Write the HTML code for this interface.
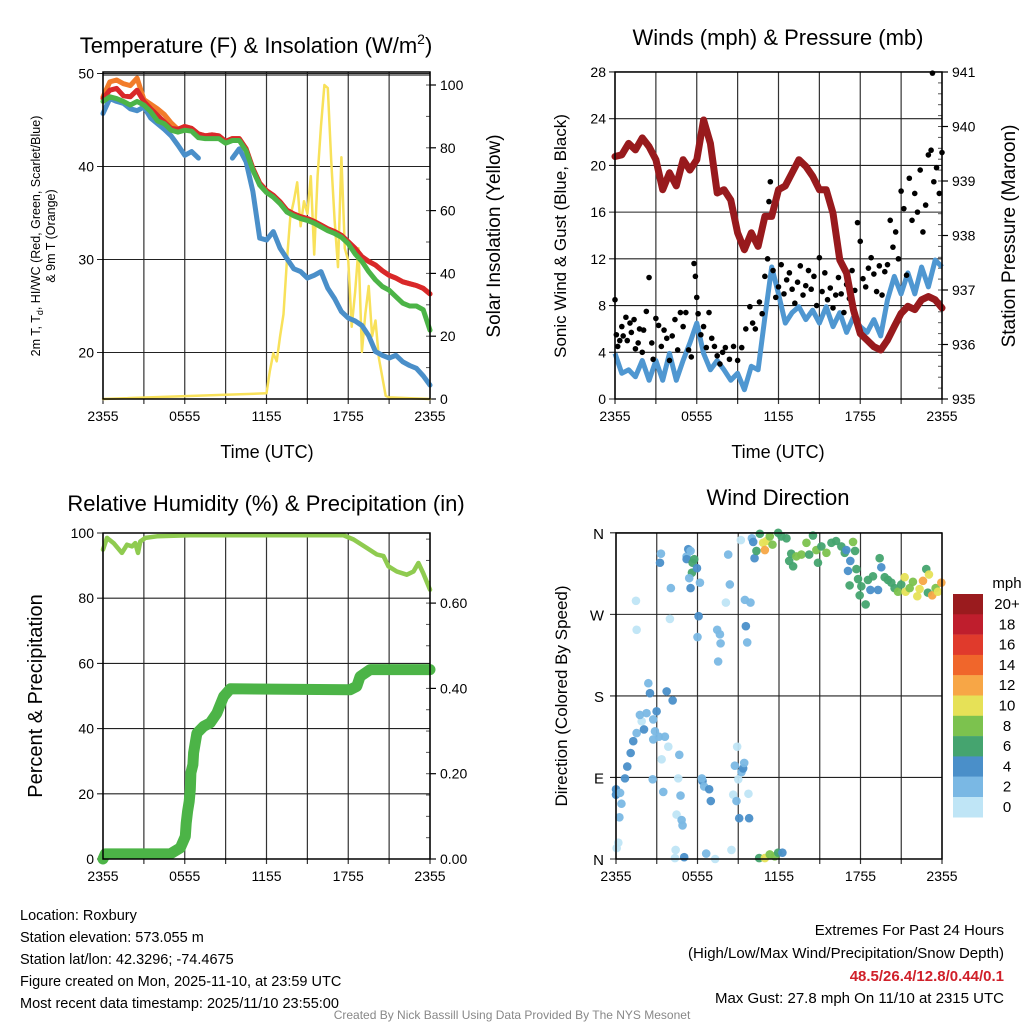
<!DOCTYPE html>
<html><head><meta charset="utf-8"><style>
html,body{margin:0;padding:0;background:#fff;}
svg{display:block;font-family:"Liberation Sans",sans-serif;}
</style></head><body>
<svg id="root" width="1024" height="1024" viewBox="0 0 1024 1024" xmlns="http://www.w3.org/2000/svg"></svg>
<script>
// ---------- DATA ----------
const tickLabelsX = ["2355","0555","1155","1755","2355"];
const halfHours = [0,0.5,1,1.5,2,2.5,3,3.5,4,4.5,5,5.5,6,6.5,7,7.5,8,8.5,9,9.5,10,10.5,11,11.5,12,12.5,13,13.5,14,14.5,15,15.5,16,16.5,17,17.5,18,18.5,19,19.5,20,20.5,21,21.5,22,22.5,23,23.5,24];
const tempRed = [47.3,48.2,48.4,47.6,47.5,48.2,47.0,46.2,45.5,44.8,44.1,44.0,44.3,44.1,43.5,43.3,43.4,43.3,42.7,43.0,43.0,41.9,39.8,38.2,37.4,36.9,36.2,35.3,34.9,34.6,34.4,34.1,33.7,33.3,33.0,32.6,31.9,31.2,30.3,29.8,29.4,28.8,28.3,28.0,27.6,27.4,27.2,26.9,26.3];
const tempGreen = [47.0,47.5,47.3,47.0,46.6,47.0,46.6,45.9,44.9,44.6,43.9,43.7,43.9,43.8,43.1,43.0,43.0,43.0,42.5,42.8,42.8,41.7,39.6,38.0,37.2,36.7,36.0,35.1,34.7,34.4,34.2,33.9,33.5,33.1,32.8,32.4,31.7,30.6,29.8,28.7,27.8,27.1,26.7,26.0,25.3,25.0,25.0,24.6,22.4];
const tempOrange = [47.5,49.1,49.3,48.9,48.7,49.5,47.2,46.7,46.2,45.6,44.7,44.0,44.3,44.1,43.5,43.3,43.4,43.3,42.7,43.0,43.0,41.9,39.8,38.2,37.4,36.9,36.2,35.3,34.9,34.6,34.4,34.1,33.7,33.3,33.0,32.6,31.9,31.2,30.3,29.8,29.4,28.8,28.3,28.0,27.6,27.4,27.2,26.9,26.3];
const dewBlue = [45.7,47.3,47.0,46.8,46.2,46.0,46.4,45.2,44.6,44.0,43.3,42.3,41.2,41.6,40.9,null,null,null,null,40.9,41.9,40.5,37.3,32.3,32.1,33.0,31.2,30.1,29.0,28.7,28.0,28.3,28.7,26.9,25.8,24.4,23.7,23.4,22.9,21.8,20.1,19.7,19.4,19.7,19.0,18.6,18.3,17.5,16.5];
const solarT = [0,12,12.25,12.5,12.75,13,13.25,13.5,13.75,14,14.25,14.5,14.75,15,15.25,15.5,15.75,16,16.25,16.5,16.75,17,17.25,17.5,17.75,18,18.25,18.5,18.75,19,19.25,19.5,19.75,20,20.25,20.5,20.75,21,24];
const solarV = [0,1.8,9,14.6,12,20,27,44,58,63,69,55,63,59,71,46,71,87,100,99,76,57,42,77,48,44,23,34,48,15,27,36,20,25,13,7,1,0.5,0];
const sonicWind = [3.9,2.2,2.5,1.9,3.3,1.6,3.3,1.6,3.9,1.6,3.3,4.8,6.5,3.9,2.5,3.3,2.5,1.6,2.2,0.8,2.8,2.5,7.0,11.3,9.0,6.5,7.4,7.9,6.8,7.6,6.5,7.9,6.2,7.4,5.7,7.0,6.2,5.7,6.8,5.4,8.5,10.5,9.0,10.8,9.0,11.3,9.6,11.9,11.3];
const pressure = [939.45,939.48,939.69,939.57,939.79,939.63,939.39,938.84,939.15,938.91,939.39,939.2,939.39,940.12,939.69,938.78,938.84,938.65,938.05,937.74,938.05,937.8,938.35,938.35,938.84,938.91,939.15,939.39,939.27,939.09,938.84,938.84,938.41,937.55,937.31,936.64,936.2,936.08,935.96,935.9,936.08,936.33,936.57,936.7,936.64,936.82,936.88,936.82,936.67];
const gustT = [0.0,0.1,0.2,0.35,0.5,0.6,0.8,0.9,1.1,1.2,1.4,1.5,1.7,1.8,2.0,2.1,2.3,2.5,2.7,2.8,3.0,3.2,3.4,3.6,3.8,4.0,4.2,4.4,4.6,4.8,5.0,5.2,5.4,5.6,5.8,5.9,6.0,6.1,6.3,6.5,6.7,6.9,7.1,7.3,7.5,7.7,7.9,8.1,8.4,8.7,9.0,9.3,9.6,9.9,10.1,10.3,10.6,10.8,11.0,11.2,11.3,11.4,11.6,11.8,12.0,12.2,12.4,12.6,12.8,13.0,13.2,13.4,13.6,13.8,14.0,14.2,14.4,14.6,14.8,15.0,15.2,15.4,15.6,15.8,16.0,16.2,16.4,16.6,16.8,17.0,17.2,17.4,17.6,17.8,18.0,18.2,18.4,18.6,18.8,19.0,19.2,19.4,19.6,19.8,20.0,20.2,20.4,20.6,20.8,21.0,21.2,21.4,21.6,21.8,22.0,22.2,22.4,22.6,22.8,23.0,23.2,23.3,23.4,23.6,23.8,24.0];
const gustV = [8.5,5.5,4.5,5.0,6.2,5.4,7.0,5.0,6.5,5.7,6.8,4.3,4.8,6.0,4.0,5.9,7.5,10.4,4.8,3.4,6.9,6.3,4.5,5.9,5.2,3.3,5.4,6.8,4.2,7.4,6.2,7.4,4.2,3.6,11.6,10.5,8.7,7.3,5.5,6.2,4.4,7.4,5.2,4.5,3.7,3.0,4.0,4.4,3.4,4.5,3.3,4.4,6.0,7.9,6.5,6.0,8.3,7.3,10.5,12.0,16.9,18.6,11.0,8.7,9.6,11.5,9.0,10.2,10.8,9.4,8.2,10.0,11.4,8.9,9.7,11.0,9.4,10.5,8.0,12.1,9.2,10.8,8.5,9.5,7.8,8.9,10.4,9.0,7.4,9.8,8.6,11.0,9.3,15.1,13.5,10.3,9.6,11.2,12.1,10.7,9.2,11.4,8.9,10.9,11.5,15.3,13.0,14.3,12.0,17.8,16.3,10.6,18.9,15.3,17.6,16.0,19.6,14.3,16.6,20.9,21.3,27.9,18.6,19.8,17.6,21.1];
const rhT = [0,0.29,0.78,1.39,1.76,2.13,2.37,2.57,2.74,3.11,3.96,6.4,17.65,18.39,19.37,20.1,20.59,20.95,21.56,22.3,22.79,23.15,23.5,24];
const rhV = [94.9,98.5,96.9,93.9,96.4,95.9,96.9,93.9,97.4,98.5,99.0,99.3,99.3,98.0,95.4,93.4,92.9,89.8,88.2,87.2,88.2,90.8,87.7,82.6];
const precipT = [0,0.17,4.94,5.67,6.04,6.11,6.21,6.33,6.41,6.45,6.6,6.65,6.89,7.38,7.87,8.36,8.85,9.34,18.14,18.63,18.87,19.61,24];
const precipV = [0,0.012,0.012,0.026,0.053,0.084,0.112,0.135,0.163,0.202,0.221,0.249,0.295,0.311,0.319,0.342,0.381,0.399,0.397,0.405,0.428,0.444,0.444];
const dirT = [0,0,0.3,0.4,0.25,0.17,0.05,0.66,0.83,1.08,1.27,1.52,1.89,1.76,2.06,2.25,2.38,2.5,2.74,2.87,2.74,2.7,2.99,3.16,3.36,3.48,3.6,3.85,3.73,4.17,4.46,4.58,4.66,4.75,4.83,4.9,4.39,5.02,4.34,1.47,1.52,3.97,4.04,3.31,3.24,5.2,5.32,5.49,5.2,5.76,5.64,5.59,5.96,5.39,5.49,6.18,6.08,6.0,6.37,6.49,6.86,6.98,6.32,6.64,7.3,7.45,7.65,7.7,7.52,8.09,8.26,8.38,8.5,8.63,8.87,8.75,8.92,9.0,9.07,9.24,9.36,9.44,9.75,9.8,9.56,9.66,9.49,9.9,9.19,10.0,10.1,10.2,10.34,10.59,10.83,10.96,11.08,11.32,11.52,11.94,12.18,12.55,12.75,13.04,12.9,13.28,13.65,14.02,14.22,14.5,14.75,14.87,15.12,15.49,15.86,16.2,16.59,16.84,16.96,17.45,17.6,17.25,17.08,17.7,17.82,17.2,18.06,17.94,18.38,18.55,18.73,18.92,19.29,19.41,19.53,19.78,20.02,20.27,20.51,20.76,21.0,21.25,21.32,21.62,21.86,22.18,22.35,22.6,22.84,23.04,22.96,23.28,23.53,23.7,23.95,10.54,10.96,11.32,11.69,11.94,12.25];
const dirV = [77,71,73,61,46,18,12,89,102,117,130,139,152,159,143,161,194,183,154,141,132,88,163,135,110,74,135,124,185,175,49,89,115,70,43,37,10,2,1,285,253,265,299,337,327,334,342,340,331,331,327,316,321,310,299,305,268,245,86,80,77,64,89,6,0,253,248,238,218,283,336,303,10,71,64,103,124,88,45,96,100,106,72,45,257,239,286,283,352,354,350,332,340,359,349,341,351,356,347,360,356,354,329,323,337,334,336,349,336,357,341,327,345,338,349,351,345,338,341,350,340,329,318,320,309,302,301,291,281,308,297,312,297,332,322,311,308,305,299,295,303,311,295,299,306,290,298,307,320,314,294,291,299,295,305,1,1,5,3,7,7];
const dirSpeed = [5,5,3,3,3,1,1,5,5,5,5,3,1,3,5,3,3,5,3,3,3,3,5,3,1,3,3,1,5,5,1,1,3,3,3,3,1,5,1,1,1,1,3,3,5,3,5,3,5,7,7,7,5,3,5,3,5,3,5,3,5,5,3,3,1,3,3,3,3,1,3,3,1,1,3,3,1,1,5,3,5,3,1,5,5,3,3,3,1,3,5,5,7,7,11,13,11,9,9,7,7,7,7,7,7,9,9,9,7,7,9,7,7,9,7,7,7,7,5,9,7,5,5,7,7,7,7,7,7,7,5,7,5,7,5,7,7,7,7,9,7,11,11,9,9,11,11,13,7,11,7,13,9,11,13,7,11,9,9,7,5];
const cbLabels = ["20+","18","16","14","12","10","8","6","4","2","0"];
const cbColors = ["#9a1b1e","#bf1e2d","#e03a2c","#f0662b","#f7a646","#e6e157","#7cc24e","#45a46f","#4a8fc9","#7ab8e4","#bfe5f6"];

// ---------- HELPERS ----------
const NS = "http://www.w3.org/2000/svg";
const root = document.getElementById("root");
function mk(tag, attrs, parent){
  const el = document.createElementNS(NS, tag);
  for (const k in attrs) el.setAttribute(k, attrs[k]);
  (parent||root).appendChild(el);
  return el;
}
function txt(s, x, y, size, anchor, parent, extra){
  const a = {x:x, y:y, "font-size":size, "text-anchor":anchor||"middle", fill:"#000"};
  if (extra) for (const k in extra) a[k]=extra[k];
  const t = mk("text", a, parent);
  t.textContent = s;
  return t;
}
function speedColor(s){
  const idx = Math.min(10, Math.floor(s/2));
  return cbColors[10-idx];
}
function linePath(xs, ys, fx, fy){
  let d = "", pen = false;
  for (let i=0;i<xs.length;i++){
    if (ys[i]===null){ pen=false; continue; }
    d += (pen?"L":"M") + fx(xs[i]).toFixed(1) + "," + fy(ys[i]).toFixed(1);
    pen = true;
  }
  return d;
}

function panel(name, x0, x1, y0, y1, hTicks, fyL){
  const g = mk("g", {});
  
  
  const fx = h => x0 + h*(x1-x0)/24;
  for (let h=0; h<=24; h+=3){
    const l = mk("line",{x1:fx(h),x2:fx(h),y1:y0,y2:y1+5,stroke:"#333","stroke-width":1.2}, g);
    
    
  }
  hTicks.forEach(v=>{
    const l = mk("line",{x1:x0-6,x2:x1,y1:fyL(v),y2:fyL(v),stroke:"#222","stroke-width":1.1}, g);
    
    
  });
  tickLabelsX.forEach((s,i)=>{
    const t = txt(s, fx(i*6), y1+22, 14, "middle", g);
    
    
  });
  return {g, fx};
}
function frame(g, x0,x1,y0,y1){
  const r = mk("rect",{x:x0,y:y0,width:x1-x0,height:y1-y0,fill:"none",stroke:"#000","stroke-width":1.5}, g);
  
  
}
function rightTicks(g, x1, vals, fy, labels, minorVals){
  vals.forEach((v,i)=>{
    mk("line",{x1:x1,x2:x1+6,y1:fy(v),y2:fy(v),stroke:"#000","stroke-width":1.2}, g);
    const t = txt(labels[i], x1+10, fy(v)+5, 14, "start", g);
    
    
  });
  minorVals.forEach(v=>{
    mk("line",{x1:x1-4,x2:x1,y1:fy(v),y2:fy(v),stroke:"#555","stroke-width":1}, g);
  });
}
function leftLabels(g, x0, vals, fy){
  vals.forEach(v=>{
    const t = txt(String(v), x0-9, fy(v)+5, 14, "end", g);
    
    
  });
}

// ---------- PANEL 1 ----------
{
  const x0=103,x1=430,y0=72,y1=399;
  const fyT = v => 399-(v-15)*9.3;
  const fyS = w => 399 - w*3.14;
  const P = panel("temperature-panel", x0,x1,y0,y1,[20,30,40,50],fyT);
  const g=P.g, fx=P.fx;
  leftLabels(g,x0,[20,30,40,50],fyT);
  const minor=[]; for(let w=10;w<=100;w+=10) minor.push(w);
  rightTicks(g,x1,[0,20,40,60,80,100],fyS,["0","20","40","60","80","100"],minor);
  const series = [
    ["solar-insolation-line", solarT, solarV, fyS, "#f8e15a", 2.5],
    ["dewpoint-line", halfHours, dewBlue, fyT, "#4a8fc9", 5],
    ["temp-9m-line", halfHours, tempOrange, fyT, "#f27c2a", 5],
    ["temp-2m-line", halfHours, tempRed, fyT, "#d9282a", 5],
    ["heat-index-line", halfHours, tempGreen, fyT, "#4cb447", 5]
  ];
  series.forEach(s=>{
    const p = mk("path",{d:linePath(s[1],s[2],fx,s[3]),fill:"none",stroke:s[4],"stroke-width":s[5],"stroke-linejoin":"round","stroke-linecap":"round"}, g);
    
    
  });
  frame(g,x0,x1,y0,y1);
  mk("line",{x1:x0,x2:x1,y1:75,y2:75,stroke:"#000","stroke-width":1},g);
  const t1 = txt("Temperature (F) & Insolation (W/m",256,53,22,"middle",g);
  
  
  const sup = mk("tspan",{dy:-9,"font-size":14},t1); sup.textContent="2";
  const sup2 = mk("tspan",{dy:9},t1); sup2.textContent=")";
  const xl = txt("Time (UTC)",267,458,18,"middle",g);
  
  
  const yl = txt("2m T, T",0,0,12.5,"middle",g,{transform:"translate(40,236) rotate(-90)"});
  
  
  const sb = mk("tspan",{dy:3,"font-size":9},yl); sb.textContent="d";
  const sb2 = mk("tspan",{dy:-3},yl); sb2.textContent=", HI/WC (Red, Green, Scarlet/Blue)";
  const yl2 = txt("& 9m T (Orange)",0,0,12.5,"middle",g,{transform:"translate(55,236) rotate(-90)"});
  
  
  const yr = txt("Solar Insolation (Yellow)",0,0,19,"middle",g,{transform:"translate(500,236) rotate(-90)"});
  
  
}

// ---------- PANEL 2 ----------
{
  const x0=615,x1=942,y0=72,y1=399;
  const fyW = v => 399 - v*11.68;
  const fyP = p => 399 - (p-935)*54.5;
  const ticks=[0,4,8,12,16,20,24,28];
  const P = panel("winds-panel", x0,x1,y0,y1,ticks,fyW);
  const g=P.g, fx=P.fx;
  leftLabels(g,x0,ticks,fyW);
  const minor=[]; for(let p=935.2;p<941;p+=0.2) minor.push(p);
  rightTicks(g,x1,[935,936,937,938,939,940,941],fyP,["935","936","937","938","939","940","941"],minor);
  const sw = mk("path",{d:linePath(halfHours,sonicWind,fx,fyW),fill:"none",stroke:"#4f97d1","stroke-width":5,"stroke-linejoin":"round"},g);
  
  
  gustT.forEach((t,i)=>{
    const c = mk("circle",{cx:fx(t),cy:fyW(gustV[i]),r:2.8,fill:"#000"},g);
    
    
  });
  const pr = mk("path",{d:linePath(halfHours,pressure,fx,fyP),fill:"none",stroke:"#981a1d","stroke-width":7,"stroke-linejoin":"round","stroke-linecap":"round"},g);
  
  
  frame(g,x0,x1,y0,y1);
  const t = txt("Winds (mph) & Pressure (mb)",778,45,22,"middle",g);
  
  
  const xl = txt("Time (UTC)",778,458,18,"middle",g);
  
  
  const yl = txt("Sonic Wind & Gust (Blue, Black)",0,0,17,"middle",g,{transform:"translate(566,236) rotate(-90)"});
  
  
  const yr = txt("Station Pressure (Maroon)",0,0,19,"middle",g,{transform:"translate(1015,236) rotate(-90)"});
  
  
}

// ---------- PANEL 3 ----------
{
  const x0=103,x1=430,y0=533,y1=859;
  const fyR = v => 859 - v*3.26;
  const fyQ = v => 859 - v*426.5;
  const ticks=[0,20,40,60,80,100];
  const P = panel("humidity-panel", x0,x1,y0,y1,ticks,fyR);
  const g=P.g, fx=P.fx;
  leftLabels(g,x0,ticks,fyR);
  const minor=[]; for(let q=0.05;q<0.76;q+=0.05) minor.push(q);
  rightTicks(g,x1,[0,0.2,0.4,0.6],fyQ,["0.00","0.20","0.40","0.60"],minor);
  const pq = mk("path",{d:linePath(precipT,precipV,fx,fyQ),fill:"none",stroke:"#4cb447","stroke-width":11,"stroke-linejoin":"round","stroke-linecap":"round"},g);
  
  
  const rh = mk("path",{d:linePath(rhT,rhV,fx,fyR),fill:"none",stroke:"#8fcb50","stroke-width":4.5,"stroke-linejoin":"round","stroke-linecap":"round"},g);
  
  
  frame(g,x0,x1,y0,y1);
  const t = txt("Relative Humidity (%) & Precipitation (in)",266,511,22,"middle",g);
  
  
  const yl = txt("Percent & Precipitation",0,0,20,"middle",g,{transform:"translate(42,696) rotate(-90)"});
  
  
}

// ---------- PANEL 4 ----------
{
  const x0=616,x1=942,y0=533,y1=859;
  const fyD = d => 859 - d*0.906;
  const ticks=[0,90,180,270,360];
  const P = panel("wind-direction-panel", x0,x1,y0,y1,ticks,fyD);
  const g=P.g, fx=P.fx;
  ["N","E","S","W","N"].forEach((s,i)=>{
    const t = txt(s, x0-12, fyD(ticks[i])+6, 15, "end", g);
    
    
  });
  dirT.forEach((t,i)=>{
    const c = mk("circle",{cx:fx(t),cy:fyD(dirV[i]),r:4.3,fill:speedColor(dirSpeed[i]),"fill-opacity":0.95},g);
    
    
  });
  frame(g,x0,x1,y0,y1);
  const t = txt("Wind Direction",778,505,22,"middle",g);
  
  
  const yl = txt("Direction (Colored By Speed)",0,0,17,"middle",g,{transform:"translate(567,696) rotate(-90)"});
  
  
  const cb = mk("g",{},g);
  
  
  const unit = txt("mph",1007,588,15,"middle",cb);
  
  
  cbColors.forEach((c,i)=>{
    const r = mk("rect",{x:953,y:594+i*20.3,width:30,height:20.5,fill:c},cb);
    
    
    const l = txt(cbLabels[i],1007,594+i*20.3+15,15,"middle",cb);
    
    
  });
}

// ---------- FOOTER ----------
{
  const g = mk("g",{});
  
  
  const left=["Location: Roxbury","Station elevation: 573.055 m","Station lat/lon: 42.3296; -74.4675","Figure created on Mon, 2025-11-10, at 23:59 UTC","Most recent data timestamp: 2025/11/10 23:55:00"];
  left.forEach((s,i)=>{
    const t = txt(s,20,920+i*22,14.5,"start",g);
    
    
  });
  const r1 = txt("Extremes For Past 24 Hours",1004,935,15,"end",g);
  
  
  const r2 = txt("(High/Low/Max Wind/Precipitation/Snow Depth)",1004,958,15,"end",g);
  
  
  const r3 = txt("48.5/26.4/12.8/0.44/0.1",1004,981,15,"end",g,{fill:"#d0202a","font-weight":"bold"});
  
  
  const r4 = txt("Max Gust: 27.8 mph On 11/10 at 2315 UTC",1004,1003,15,"end",g);
  
  
  const c = txt("Created By Nick Bassill Using Data Provided By The NYS Mesonet",512,1019,12,"middle",g,{fill:"#888"});
  
  
}
</script>
</body></html>
